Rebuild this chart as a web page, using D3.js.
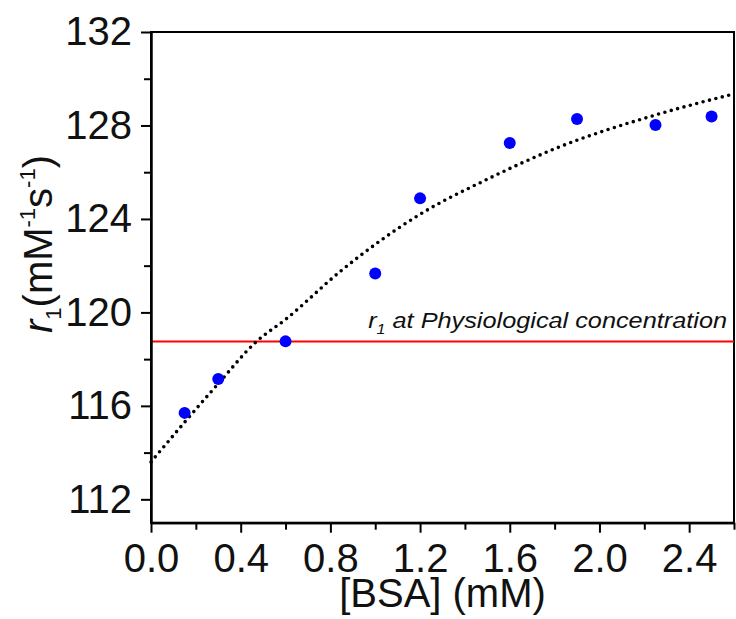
<!DOCTYPE html>
<html>
<head>
<meta charset="utf-8">
<script src="https://cdn.jsdelivr.net/npm/d3@7"></script>
<style>
  body { margin: 0; background: #fff; }
  svg { display: block; font-family: "Liberation Sans", Arial, sans-serif; }
  .axis path, .axis line { stroke: #000; stroke-width: 2; }
  .axis text { font-size: 40px; fill: #111; font-family: "Liberation Sans", Arial, sans-serif; }
</style>
</head>
<body>
<svg id="chart" width="736" height="619"></svg>
<script>
// measured points
const bsa = [0.15, 0.3, 0.6, 1.0, 1.2, 1.6, 1.9, 2.25, 2.5]
const r1 = [115.7, 117.15, 118.76, 121.66, 124.88, 127.25, 128.28, 128.02, 128.38]

// fit curve
const fitX = [0, 0.15, 0.3, 0.47, 0.6, 0.85, 1.2, 1.5, 1.8, 2.25, 2.6]
const fitY = [113.6, 115.3, 116.95, 118.75, 119.7, 121.8, 124.2, 125.7, 127.0, 128.45, 129.35]

const physio = 118.75

const xMajor = [0, 0.4, 0.8, 1.2, 1.6, 2.0, 2.4]
const xMinor = [0.2, 0.6, 1.0, 1.4, 1.8, 2.2, 2.6]
const yMajor = [112, 116, 120, 124, 128, 132]
const yMinor = [114, 118, 122, 126, 130]

const svg = d3.select('#chart')
const mLeft = 151, mRight = 734, mTop = 32, mBottom = 522.7

const xRange = d3.scaleLinear().domain([0, 2.6]).range([mLeft, mRight])
const yRange = d3.scaleLinear().domain([111, 132]).range([mBottom, mTop])

// frame
svg.append('rect')
    .attr('x', mLeft).attr('y', mTop)
    .attr('width', mRight - mLeft).attr('height', mBottom - mTop)
    .attr('fill', 'none').attr('stroke', '#000').attr('stroke-width', 2)

// red reference line
svg.append('line')
    .attr('x1', xRange(0)).attr('x2', xRange(2.6))
    .attr('y1', yRange(physio)).attr('y2', yRange(physio))
    .attr('stroke', '#ff0000').attr('stroke-width', 2)

// label is a bit wider than Liberation italic, so stretch it
const note = svg.append('text')
    .attr('transform', 'translate(727, 328) scale(1.15, 1)')
    .attr('text-anchor', 'end')
    .attr('font-style', 'italic')
    .attr('font-size', 22)
    .attr('fill', '#111')
note.append('tspan').text('r')
note.append('tspan').attr('font-size', 14).attr('dy', 6).text('1')
note.append('tspan').attr('dy', -6).text(' at Physiological concentration')

// dotted fit
const fit = fitX.map((x, i) => ({x: x, y: fitY[i]}))
svg.append('path')
    .datum(fit)
    .attr('fill', 'none')
    .attr('stroke', '#000')
    .attr('stroke-width', 3.6)
    .attr('stroke-linecap', 'round')
    .attr('stroke-dasharray', '0 6.6')
    .attr('d', d3.line()
        .curve(d3.curveMonotoneX)
        .x(d => xRange(d.x))
        .y(d => yRange(d.y)))

// points
svg.append('g').selectAll('circle')
    .data(bsa.map((x, i) => ({x: x, y: r1[i]})))
    .join('circle')
    .attr('cx', d => xRange(d.x))
    .attr('cy', d => yRange(d.y))
    .attr('r', 6)
    .attr('fill', '#0000ff')

// axes
svg.append('g').attr('class', 'axis')
    .attr('transform', `translate(0, ${mBottom})`)
    .call(d3.axisBottom(xRange).tickValues(xMajor).tickFormat(d3.format('.1f')).tickSize(10).tickPadding(10.5).tickSizeOuter(0))
svg.append('g').attr('class', 'axis')
    .attr('transform', `translate(0, ${mBottom})`)
    .call(d3.axisBottom(xRange).tickValues(xMinor).tickFormat('').tickSize(7).tickSizeOuter(0))

svg.append('g').attr('class', 'axis')
    .attr('transform', `translate(${mLeft}, 0)`)
    .call(d3.axisLeft(yRange).tickValues(yMajor).tickSize(10).tickPadding(9).tickSizeOuter(0))
svg.append('g').attr('class', 'axis')
    .attr('transform', `translate(${mLeft}, 0)`)
    .call(d3.axisLeft(yRange).tickValues(yMinor).tickFormat('').tickSize(7).tickSizeOuter(0))

// axis titles
svg.append('text')
    .attr('x', (mLeft + mRight) / 2).attr('y', 607)
    .attr('text-anchor', 'middle')
    .attr('font-size', 40)
    .attr('fill', '#111')
    .text('[BSA] (mM)')

const yt = svg.append('text')
    .attr('transform', 'translate(52, 244) rotate(-90)')
    .attr('text-anchor', 'middle')
    .attr('font-size', 40)
    .attr('fill', '#111')
yt.append('tspan').attr('font-style', 'italic').text('r')
yt.append('tspan').attr('font-size', 22).attr('dy', 9).text('1')
yt.append('tspan').attr('dy', -9).text('(mM')
yt.append('tspan').attr('font-size', 22).attr('dy', -17).text('-1')
yt.append('tspan').attr('dy', 17).text('s')
yt.append('tspan').attr('font-size', 22).attr('dy', -17).text('-1')
yt.append('tspan').attr('dy', 17).text(')')
</script>
</body>
</html>
